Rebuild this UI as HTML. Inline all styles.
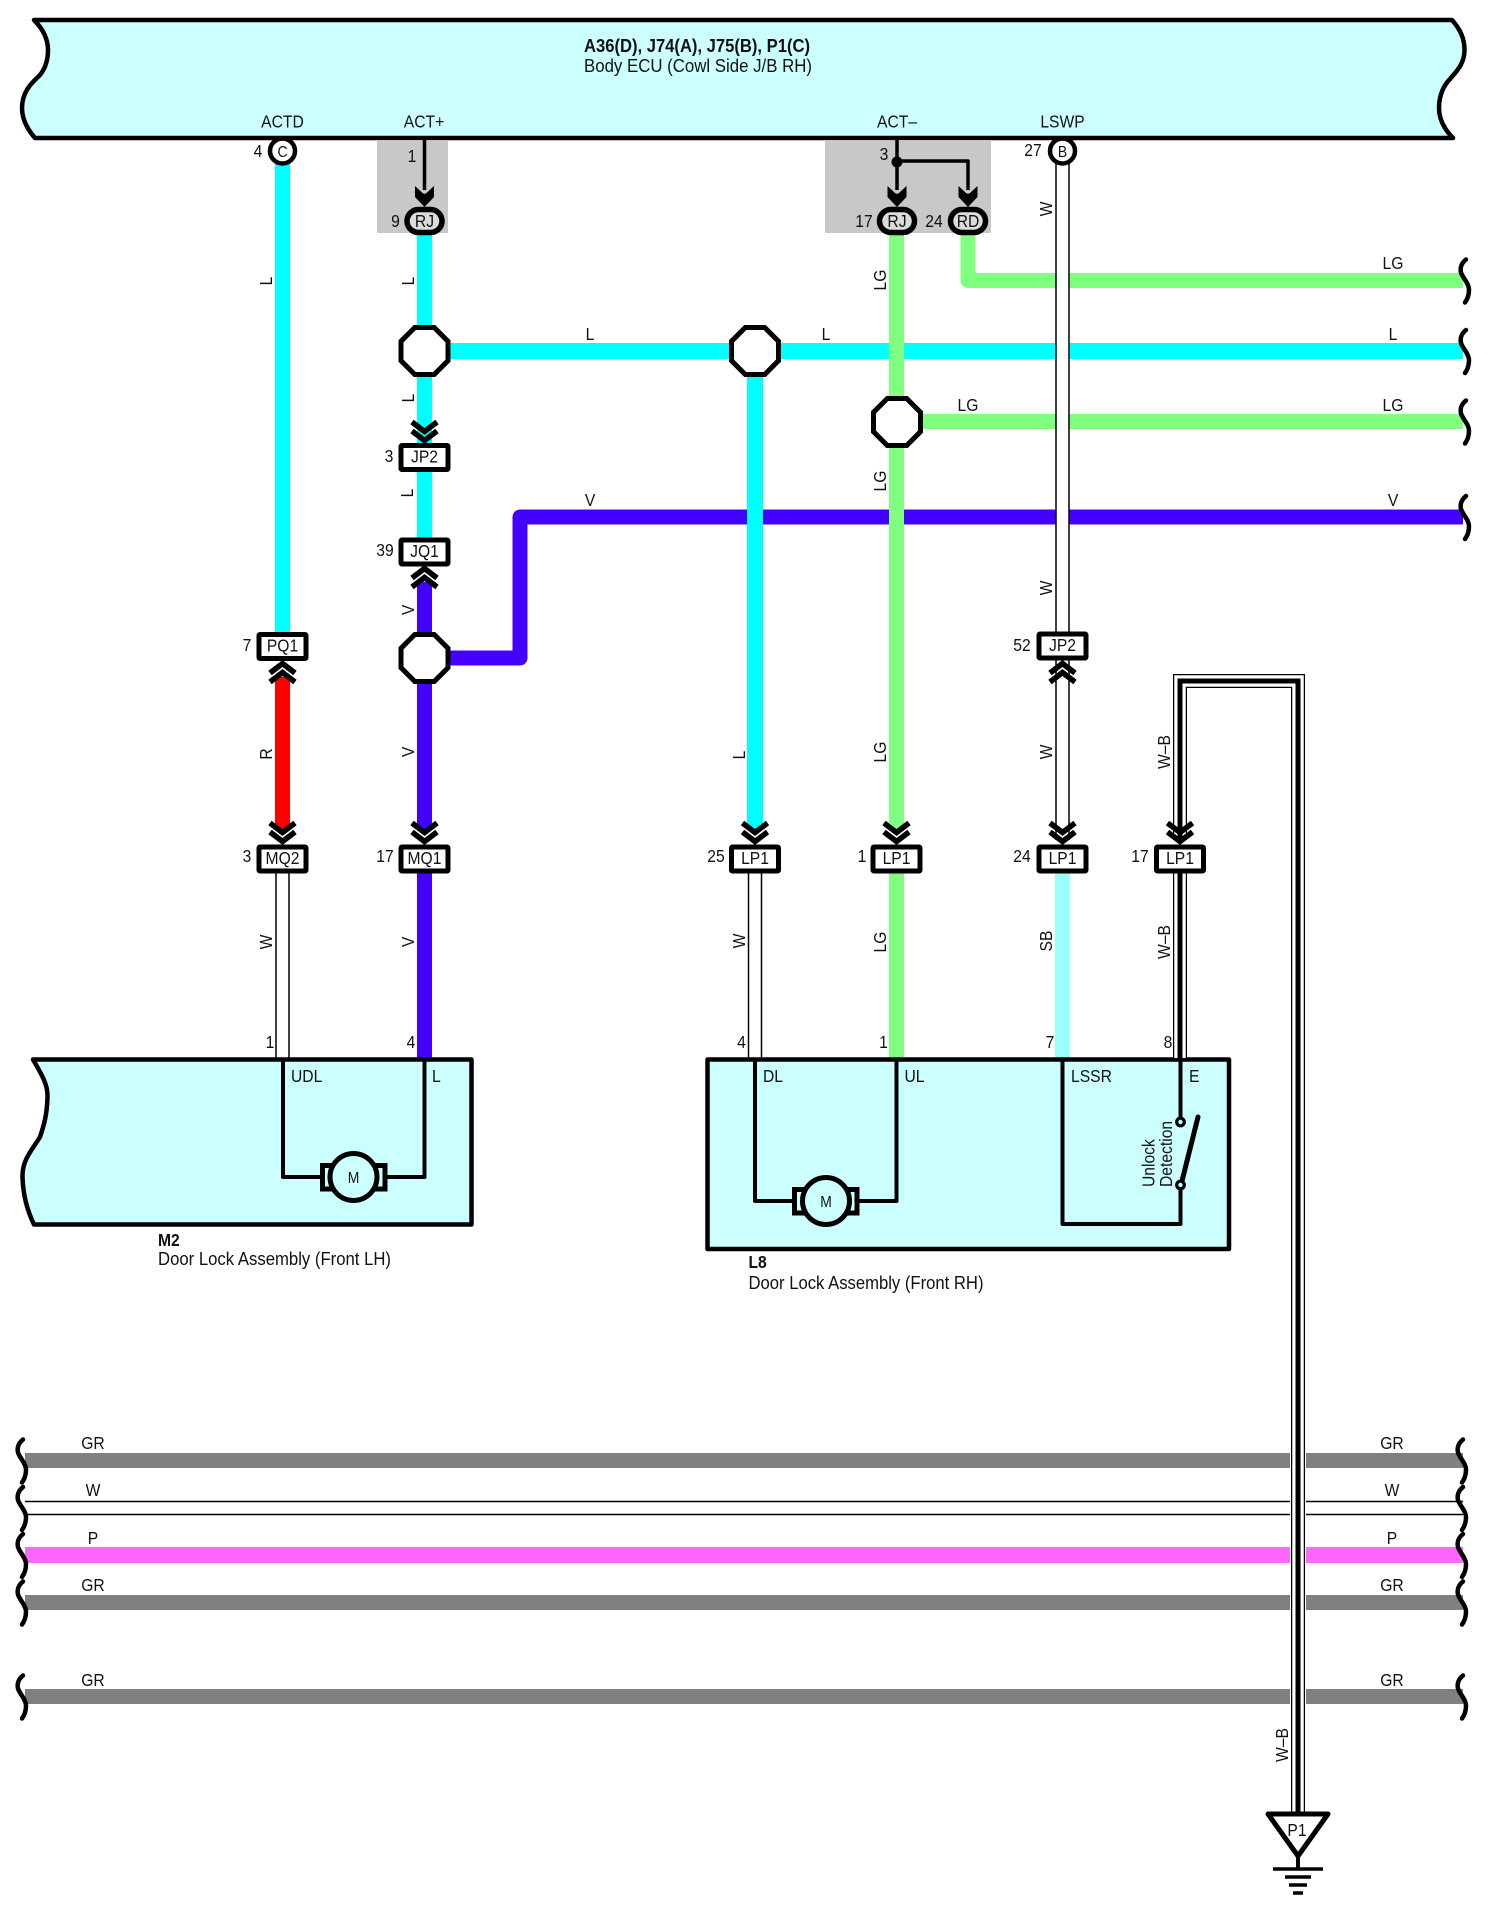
<!DOCTYPE html>
<html lang="en"><head><meta charset="utf-8"><title>Door lock wiring diagram</title>
<style>
html,body{margin:0;padding:0;background:#fff}
svg{display:block}
text{font-family:"Liberation Sans",sans-serif;font-size:18px;fill:#111}
.t{text-anchor:middle;transform:scaleX(.87);transform-box:fill-box;transform-origin:center}
.l{transform:scaleX(.87);transform-box:fill-box;transform-origin:left center}
.b{font-weight:bold}
.w{fill:none;stroke-linejoin:round}
.m{fill:none;stroke-linejoin:miter}
</style></head><body>
<svg xmlns="http://www.w3.org/2000/svg" width="1488" height="1914" viewBox="0 0 1488 1914">
<defs>
<rect id="conn" x="-23.5" y="-11.5" width="47" height="24" rx="1" fill="#fff" stroke="#000" stroke-width="5"/>
<rect id="pill" x="-17.5" y="-11.5" width="35" height="23" rx="11.5" fill="#dcdcdc" stroke="#000" stroke-width="5.5"/>
<polygon id="oct" points="-23.5,-9.7 -9.7,-23.5 9.7,-23.5 23.5,-9.7 23.5,9.7 9.7,23.5 -9.7,23.5 -23.5,9.7" fill="#fff" stroke="#000" stroke-width="5"/>
<g id="chev" fill="none" stroke="#000" stroke-width="5.5"><path d="M-12.5,3 L0,12.5 L12.5,3"/><path d="M-12.5,12 L0,21.5 L12.5,12"/></g>
<polygon id="head" points="-9.5,0 -2,7 0,8 2,7 9.5,0 9.5,11 0,21 -9.5,11" fill="#000"/>
<path id="br" d="M7,-21 C2,-17 1,-12 2,-8 C4,-2 10,3 10,9 C10,14 9,18 6,22" fill="none" stroke="#000" stroke-width="4.5" stroke-linecap="round"/>
<circle id="pin" r="12.5" fill="#fff" stroke="#000" stroke-width="4.5"/>
</defs>

<!-- ECU -->
<path d="M34,20 C44,30 48,40 48,50 C48,62 44,70 40,75 C34,81 22,90 22,108 C22,120 28,130 35,138 L1453,138 C1445,130 1439,120 1439,108 C1439,95 1444,85 1450,79 C1456,72 1464.5,64 1464.5,50 C1464.5,38 1460,29 1452,20 Z" fill="#ccffff" stroke="#000" stroke-width="4.5" stroke-linejoin="round"/>
<text class="b" x="584" y="52" textLength="226" lengthAdjust="spacingAndGlyphs">A36(D), J74(A), J75(B), P1(C)</text>
<text x="584" y="72" textLength="228" lengthAdjust="spacingAndGlyphs">Body ECU (Cowl Side J/B RH)</text>
<text class="t" x="282.5" y="127.5">ACTD</text>
<text class="t" x="424" y="127.5">ACT+</text>
<text class="t" x="897" y="127.5">ACT–</text>
<text class="t" x="1062.5" y="127.5">LSWP</text>

<!-- grey zones -->
<rect x="377" y="141" width="71" height="92" fill="#c8c8c8"/>
<rect x="825" y="141" width="166" height="92" fill="#c8c8c8"/>

<!-- coloured wires -->
<g class="w" stroke-width="15">
<path d="M282.5,160 V634" stroke="#00ffff"/>
<path d="M282.5,677 V829" stroke="#ff0000"/>
<path d="M424.5,225 V540" stroke="#00ffff"/>
<path d="M424.5,582 V829" stroke="#4400ff"/>
<path d="M424.5,873 V1058" stroke="#4400ff"/>
<path d="M424,658 H520 V517 H1463" stroke="#4400ff"/>
<path d="M968,225 V280.5 H1463" stroke="#80ff80"/>
<path d="M897,421.5 H1463" stroke="#80ff80"/>
<path d="M424,351 H1463" stroke="#00ffff" stroke-width="16"/>
<path d="M755,351 V829" stroke="#00ffff" stroke-width="16"/>
<path d="M896.5,225 V829" stroke="#80ff80"/>
<path d="M896.5,873 V1058" stroke="#80ff80"/>
<path d="M1062.5,873 V1058" stroke="#99ffff"/>
</g>

<!-- white wires -->
<g class="w">
<path d="M1062.5,151 V840" stroke="#000" stroke-width="14.5"/>
<path d="M1062.5,151 V840" stroke="#fff" stroke-width="11.5"/>
<path d="M282.5,873 V1058" stroke="#000" stroke-width="14.5"/>
<path d="M282.5,873 V1058" stroke="#fff" stroke-width="11.5"/>
<path d="M755,873 V1058" stroke="#000" stroke-width="14.5"/>
<path d="M755,873 V1058" stroke="#fff" stroke-width="11.5"/>
</g>

<!-- lower horizontal wires -->
<g fill="none">
<path d="M25,1460.5 H1463" stroke="#808080" stroke-width="15"/>
<path d="M25,1508 H1463" stroke="#000" stroke-width="14.5"/>
<path d="M25,1508 H1463" stroke="#fff" stroke-width="11.5"/>
<path d="M25,1555 H1463" stroke="#ff66ff" stroke-width="16"/>
<path d="M25,1602.5 H1463" stroke="#808080" stroke-width="15"/>
<path d="M25,1696.5 H1463" stroke="#808080" stroke-width="15"/>
</g>

<!-- bottom components -->
<path d="M33,1059.5 C42,1075 48,1085 47.5,1097 C47,1115 44,1125 40,1137 C32,1150 22,1160 22.5,1177 C23,1195 27,1210 34,1224.5 L471.5,1224.5 L471.5,1059.5 Z" fill="#ccffff" stroke="#000" stroke-width="4.5" stroke-linejoin="round"/>
<rect x="707.5" y="1059.5" width="521.5" height="189.5" fill="#ccffff" stroke="#000" stroke-width="4.5" stroke-linejoin="round"/>

<!-- W-B wire -->
<g class="m">
<path d="M1180,840 V681 H1298 V1813" stroke="#fff" stroke-width="16"/>
<path d="M1180,840 V681 H1298 V1813" stroke="#000" stroke-width="14"/>
<path d="M1180,840 V681 H1298 V1813" stroke="#fff" stroke-width="11.5"/>
<path d="M1180,840 V681 H1298 V1813" stroke="#000" stroke-width="5"/>
<path d="M1180,873 V1058" stroke="#000" stroke-width="14"/>
<path d="M1180,873 V1058" stroke="#fff" stroke-width="11.5"/>
<path d="M1180,873 V1058" stroke="#000" stroke-width="5"/>
</g>

<!-- internal wiring -->
<g class="w" stroke="#000" stroke-width="4">
<path d="M283,1060 V1177 H322"/>
<path d="M424.5,1060 V1177 H385"/>
<path d="M755,1060 V1201 H796"/>
<path d="M896.5,1060 V1201 H856"/>
<path d="M1062.5,1060 V1224 H1180.5 V1188"/>
<path d="M1180.5,1060 V1118"/>
<path d="M1181,1185 L1198,1117" stroke-width="5" stroke-linecap="round"/>
</g>
<circle cx="1180.5" cy="1122" r="3.8" fill="#ccffff" stroke="#000" stroke-width="3.2"/>
<circle cx="1180.5" cy="1185" r="3.8" fill="#ccffff" stroke="#000" stroke-width="3.2"/>

<!-- motors -->
<rect x="322.5" y="1165.5" width="62.5" height="23.5" fill="#ccffff" stroke="#000" stroke-width="5"/>
<circle cx="353.5" cy="1177" r="23.5" fill="#ccffff" stroke="#000" stroke-width="5"/>
<text class="t" x="353.5" y="1183" style="font-size:16px">M</text>
<rect x="794.5" y="1189.5" width="62.5" height="23.5" fill="#ccffff" stroke="#000" stroke-width="5"/>
<circle cx="826" cy="1201" r="23.5" fill="#ccffff" stroke="#000" stroke-width="5"/>
<text class="t" x="826" y="1207" style="font-size:16px">M</text>

<!-- grey-zone thin wires -->
<g class="w" stroke="#000" stroke-width="3.5">
<path d="M424.5,140 V190"/>
<path d="M897,140 V190"/>
<path d="M897,161 H968 V190"/>
</g>
<circle cx="897" cy="162" r="5.5" fill="#000"/>
<use href="#head" x="424.5" y="186"/>
<use href="#head" x="897" y="186"/>
<use href="#head" x="968" y="186"/>

<use href="#pill" x="424.5" y="221"/>
<use href="#pill" x="897" y="221"/>
<use href="#pill" x="968" y="221"/>
<use href="#pin" x="282.5" y="151"/>
<use href="#pin" x="1062.5" y="151"/>

<!-- chevrons -->
<use href="#chev" x="424.5" y="419"/>
<use href="#chev" x="282.5" y="820"/>
<use href="#chev" x="424.5" y="820"/>
<use href="#chev" x="755" y="820"/>
<use href="#chev" x="896.5" y="820"/>
<use href="#chev" x="1062.5" y="820"/>
<use href="#chev" x="1180" y="820"/>
<use href="#chev" transform="translate(424.5,590) scale(1,-1)"/>
<use href="#chev" transform="translate(282.5,685) scale(1,-1)"/>
<use href="#chev" transform="translate(1062.5,685) scale(1,-1)"/>

<!-- connectors -->
<use href="#conn" x="424.5" y="457"/>
<use href="#conn" x="424.5" y="551.5"/>
<use href="#conn" x="282.5" y="646"/>
<use href="#conn" x="1062.5" y="645.5"/>
<use href="#conn" x="282.5" y="858.5"/>
<use href="#conn" x="424.5" y="858.5"/>
<use href="#conn" x="755" y="858.5"/>
<use href="#conn" x="896.5" y="858.5"/>
<use href="#conn" x="1062.5" y="858.5"/>
<use href="#conn" x="1180" y="858.5"/>

<!-- octagons -->
<use href="#oct" x="424.5" y="351"/>
<use href="#oct" x="755" y="351"/>
<use href="#oct" x="897" y="422"/>
<use href="#oct" x="424.5" y="658"/>

<!-- breaks -->
<use href="#br" x="1459" y="280.5"/>
<use href="#br" x="1459" y="351"/>
<use href="#br" x="1459" y="421.5"/>
<use href="#br" x="1459" y="517"/>
<use href="#br" x="1456" y="1460.5"/>
<use href="#br" x="1456" y="1508"/>
<use href="#br" x="1456" y="1555"/>
<use href="#br" x="1456" y="1602.5"/>
<use href="#br" x="1456" y="1696.5"/>
<use href="#br" x="16" y="1460.5"/>
<use href="#br" x="16" y="1508"/>
<use href="#br" x="16" y="1555"/>
<use href="#br" x="16" y="1602.5"/>
<use href="#br" x="16" y="1696.5"/>

<!-- ground -->
<polygon points="1268,1814 1328,1814 1298,1856" fill="#fff" stroke="#000" stroke-width="5" stroke-linejoin="round"/>
<g stroke="#000" fill="none">
<path d="M1298,1856 V1869" stroke-width="4"/>
<path d="M1273,1869 H1323" stroke-width="3.5"/>
<path d="M1285,1877 H1311" stroke-width="3.5"/>
<path d="M1289,1885 H1307" stroke-width="3.5"/>
<path d="M1293,1893 H1303" stroke-width="3.5"/>
</g>
<text class="t" x="1297" y="1836">P1</text>

<!-- connector labels -->
<text class="t" x="424.5" y="227">RJ</text>
<text class="t" x="897" y="227">RJ</text>
<text class="t" x="968" y="227">RD</text>
<text class="t" x="282.5" y="157" style="font-size:16px">C</text>
<text class="t" x="1062.5" y="157" style="font-size:16px">B</text>
<text class="t" x="424.5" y="462.5">JP2</text>
<text class="t" x="424.5" y="557">JQ1</text>
<text class="t" x="282.5" y="651.5">PQ1</text>
<text class="t" x="1062.5" y="651">JP2</text>
<text class="t" x="282.5" y="864">MQ2</text>
<text class="t" x="424.5" y="864">MQ1</text>
<text class="t" x="755" y="864">LP1</text>
<text class="t" x="896.5" y="864">LP1</text>
<text class="t" x="1062.5" y="864">LP1</text>
<text class="t" x="1180" y="864">LP1</text>

<!-- pin numbers -->
<text class="t" x="258" y="157">4</text>
<text class="t" x="412" y="162">1</text>
<text class="t" x="395.5" y="227">9</text>
<text class="t" x="884" y="160">3</text>
<text class="t" x="864" y="227">17</text>
<text class="t" x="934" y="227">24</text>
<text class="t" x="1033" y="156">27</text>
<text class="t" x="389" y="462">3</text>
<text class="t" x="385" y="556">39</text>
<text class="t" x="247" y="651">7</text>
<text class="t" x="1022" y="651">52</text>
<text class="t" x="247" y="862">3</text>
<text class="t" x="385" y="862">17</text>
<text class="t" x="716" y="862">25</text>
<text class="t" x="862" y="862">1</text>
<text class="t" x="1022" y="862">24</text>
<text class="t" x="1140" y="862">17</text>
<text class="t" x="270" y="1048">1</text>
<text class="t" x="411" y="1048">4</text>
<text class="t" x="741.5" y="1048">4</text>
<text class="t" x="883.5" y="1048">1</text>
<text class="t" x="1050" y="1048">7</text>
<text class="t" x="1168" y="1048">8</text>

<!-- horizontal wire labels -->
<text class="t" x="1393" y="269">LG</text>
<text class="t" x="590" y="340">L</text>
<text class="t" x="826" y="340">L</text>
<text class="t" x="1393" y="340">L</text>
<text class="t" x="968" y="411">LG</text>
<text class="t" x="1393" y="411">LG</text>
<text class="t" x="590" y="506">V</text>
<text class="t" x="1393" y="506">V</text>
<text class="t" x="93" y="1449">GR</text>
<text class="t" x="93" y="1496">W</text>
<text class="t" x="93" y="1544">P</text>
<text class="t" x="93" y="1591">GR</text>
<text class="t" x="93" y="1686">GR</text>
<text class="t" x="1392" y="1449">GR</text>
<text class="t" x="1392" y="1496">W</text>
<text class="t" x="1392" y="1544">P</text>
<text class="t" x="1392" y="1591">GR</text>
<text class="t" x="1392" y="1686">GR</text>

<!-- rotated wire labels -->
<g transform="translate(272,281) rotate(-90)"><text class="t">L</text></g>
<g transform="translate(414,281) rotate(-90)"><text class="t">L</text></g>
<g transform="translate(414,398) rotate(-90)"><text class="t">L</text></g>
<g transform="translate(413,493) rotate(-90)"><text class="t">L</text></g>
<g transform="translate(414,610) rotate(-90)"><text class="t">V</text></g>
<g transform="translate(414,752) rotate(-90)"><text class="t">V</text></g>
<g transform="translate(272,754) rotate(-90)"><text class="t">R</text></g>
<g transform="translate(272,942) rotate(-90)"><text class="t">W</text></g>
<g transform="translate(414,942) rotate(-90)"><text class="t">V</text></g>
<g transform="translate(745,755) rotate(-90)"><text class="t">L</text></g>
<g transform="translate(745,941) rotate(-90)"><text class="t">W</text></g>
<g transform="translate(886,280) rotate(-90)"><text class="t">LG</text></g>
<g transform="translate(886,481) rotate(-90)"><text class="t">LG</text></g>
<g transform="translate(886,752) rotate(-90)"><text class="t">LG</text></g>
<g transform="translate(886,942) rotate(-90)"><text class="t">LG</text></g>
<g transform="translate(1052,209) rotate(-90)"><text class="t">W</text></g>
<g transform="translate(1052,588) rotate(-90)"><text class="t">W</text></g>
<g transform="translate(1052,752) rotate(-90)"><text class="t">W</text></g>
<g transform="translate(1052,941) rotate(-90)"><text class="t">SB</text></g>
<g transform="translate(1170,752) rotate(-90)"><text class="t">W–B</text></g>
<g transform="translate(1170,942) rotate(-90)"><text class="t">W–B</text></g>
<g transform="translate(1288,1745) rotate(-90)"><text class="t">W–B</text></g>

<!-- component labels -->
<text class="l" x="291" y="1082">UDL</text>
<text class="l" x="432" y="1082">L</text>
<text class="l" x="763" y="1082">DL</text>
<text class="l" x="904.5" y="1082">UL</text>
<text class="l" x="1071" y="1082">LSSR</text>
<text class="l" x="1189" y="1082">E</text>
<g transform="translate(1154.5,1187) rotate(-90)"><text class="l">Unlock</text></g>
<g transform="translate(1172,1187) rotate(-90)"><text class="l">Detection</text></g>
<text class="l b" x="158" y="1246">M2</text>
<text x="158" y="1265" textLength="233" lengthAdjust="spacingAndGlyphs">Door Lock Assembly (Front LH)</text>
<text class="l b" x="748.5" y="1268">L8</text>
<text x="748.5" y="1289" textLength="235" lengthAdjust="spacingAndGlyphs">Door Lock Assembly (Front RH)</text>
</svg>
</body></html>
